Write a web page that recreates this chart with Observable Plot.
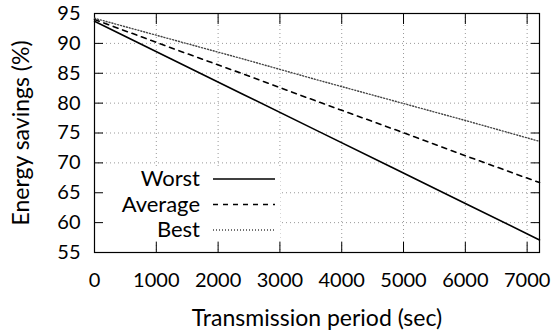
<!DOCTYPE html>
<html><head><meta charset="utf-8">
<script src="https://cdn.jsdelivr.net/npm/d3@7"></script>
<script src="https://cdn.jsdelivr.net/npm/@observablehq/plot@0.6"></script>
<style>body{margin:0;background:#fff;} svg{font-family:Lato,sans-serif;}</style>
</head><body><div id="chart"></div>
<script>
const periods = [0, 1200, 2400, 3600, 4800, 6000, 7200];
const worst   = [93.7, 87.6, 81.5, 75.4, 69.3, 63.2, 57.1];
const average = [94.0, 89.4, 84.9, 80.3, 75.8, 71.2, 66.7];
const best    = [94.2, 90.8, 87.4, 83.9, 80.5, 77.1, 73.6];
const seriesNames = ["Worst", "Average", "Best"];
const xTicks = [0, 1000, 2000, 3000, 4000, 5000, 6000, 7000];
const yTicks = [55, 60, 65, 70, 75, 80, 85, 90, 95];
const xTitle = "Transmission period (sec)";
const yTitle = "Energy savings (%)";

const styles = {
  Worst:   {stroke: "#000", strokeWidth: 1.6, strokeDasharray: null},
  Average: {stroke: "#000", strokeWidth: 1.6, strokeDasharray: "5,5"},
  Best:    {stroke: "#444", strokeWidth: 1.4, strokeDasharray: "1,2"}
};
const seriesVals = {Worst: worst, Average: average, Best: best};
const rows = seriesNames.map(s => periods.map((p, i) => ({series: s, x: p, y: seriesVals[s][i]})));

const FS = 20, TS = 23, LS = 22;
const grid = {stroke: "#999", strokeOpacity: 1, strokeDasharray: "1,3", strokeWidth: 1};
const chart = Plot.plot({
  width: 557, height: 334,
  marginLeft: 94, marginRight: 18, marginTop: 13, marginBottom: 82,
  style: {fontFamily: "Lato, sans-serif", fontSize: FS + "px", color: "#000", background: "#fff"},
  x: {domain: [0, 7200]},
  y: {domain: [55, 95]},
  marks: [
    Plot.gridX(xTicks.filter(d => d > 0), grid),
    Plot.gridY(yTicks.filter(d => d > 55 && d < 95), grid),
    Plot.axisX(xTicks, {anchor: "bottom", tickSize: -10, tickPadding: 30, tickFormat: d3.format("d"), label: null, fontSize: FS}),
    Plot.axisX(xTicks, {anchor: "top", tickSize: -10, tickFormat: () => "", label: null}),
    Plot.axisY(yTicks, {anchor: "left", tickSize: -9, tickPadding: 23, tickFormat: d3.format("d"), label: null, fontSize: FS}),
    Plot.axisY(yTicks, {anchor: "right", tickSize: -9, tickFormat: () => "", label: null}),
    Plot.text([xTitle], {frameAnchor: "bottom", dy: 66, lineAnchor: "middle", fontSize: TS, fill: "#000"}),
    Plot.text([yTitle], {frameAnchor: "left", dx: -73, rotate: -90, lineAnchor: "middle", textAnchor: "middle", fontSize: TS, fill: "#000"}),
    Plot.frame({stroke: "#000", strokeWidth: 1.2}),
    ...rows.map((data, k) => Plot.line(data, {x: "x", y: "y", ...styles[seriesNames[k]]}))
  ]
});
document.getElementById("chart").appendChild(chart);

// legend (gnuplot-style opaque key box)
const svg = d3.select(chart);
svg.insert("rect", '[aria-label="x-axis tick"]')
  .attr("x", 96).attr("y", 166).attr("width", 184).attr("height", 75).attr("fill", "#fff");
const lg = svg.append("g").attr("font-family", "Lato, sans-serif").attr("font-size", LS);
seriesNames.forEach((s, i) => {
  const yy = 179 + i * 25.5;
  lg.append("text").attr("x", 200).attr("y", yy).attr("dy", "0.33em").attr("text-anchor", "end").text(s);
  lg.append("line").attr("x1", 213).attr("x2", 275).attr("y1", yy).attr("y2", yy)
    .attr("stroke", styles[s].stroke).attr("stroke-width", styles[s].strokeWidth)
    .attr("stroke-dasharray", styles[s].strokeDasharray);
});
</script></body></html>
